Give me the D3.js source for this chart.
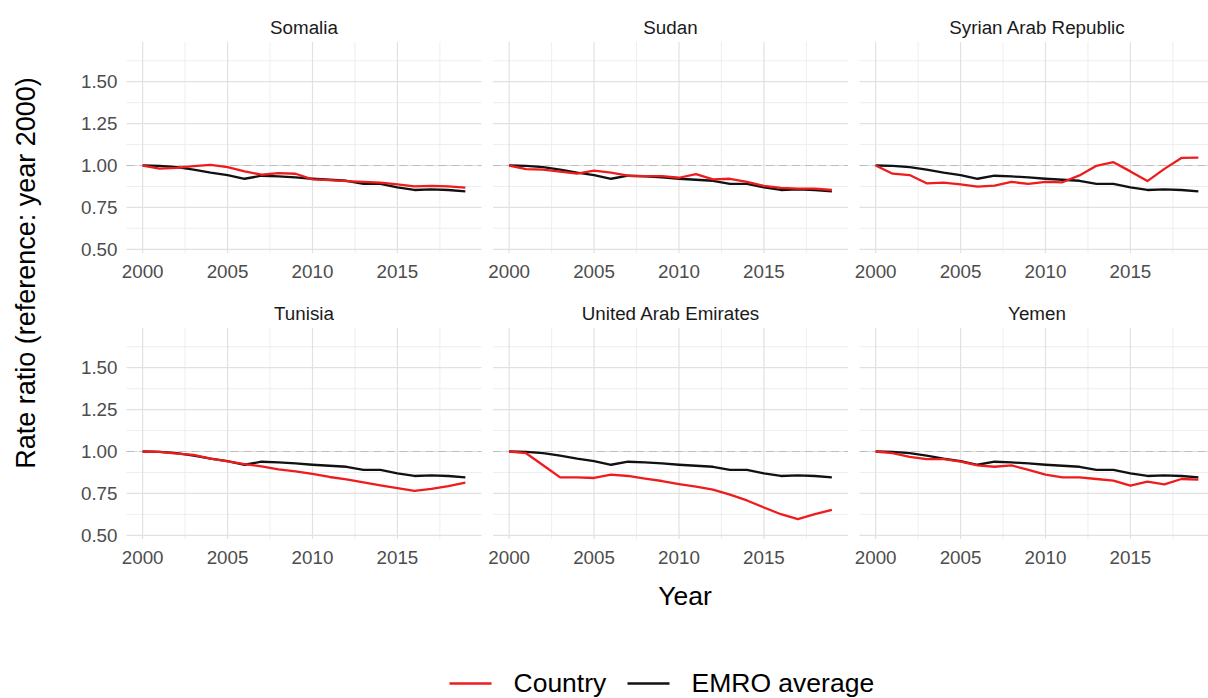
<!DOCTYPE html>
<html>
<head>
<meta charset="utf-8">
<script src="https://cdn.jsdelivr.net/npm/d3@7"></script>
<style>
  html, body { margin: 0; padding: 0; background: #ffffff; }
  svg { display: block; font-family: "Liberation Sans", Arial, Helvetica, sans-serif; }
</style>
</head>
<body>
<svg id="chart" width="1208" height="698"></svg>
<script>
// Years on the x axis
const years = d3.range(2000, 2020);

// Facet order (row by row)
const countries = ["Somalia", "Sudan", "Syrian Arab Republic",
                   "Tunisia", "United Arab Emirates", "Yemen"];

// Regional (EMRO) average rate ratio, same in every facet
const emroAverage = [1.000, 0.998, 0.990, 0.975, 0.957, 0.943, 0.921, 0.939, 0.935, 0.929,
                     0.921, 0.915, 0.909, 0.891, 0.891, 0.870, 0.854, 0.858, 0.854, 0.846];

// Country rate ratios (reference: year 2000)
const somalia = [1.000, 0.982, 0.986, 0.996, 1.004, 0.990, 0.965, 0.945, 0.955, 0.951,
                 0.917, 0.913, 0.907, 0.902, 0.898, 0.888, 0.876, 0.878, 0.876, 0.868];
const sudan   = [1.000, 0.978, 0.976, 0.963, 0.951, 0.969, 0.957, 0.939, 0.937, 0.937,
                 0.927, 0.949, 0.917, 0.921, 0.902, 0.878, 0.866, 0.862, 0.862, 0.854];
const syria   = [1.000, 0.951, 0.943, 0.894, 0.898, 0.888, 0.874, 0.880, 0.902, 0.890,
                 0.902, 0.900, 0.941, 0.998, 1.020, 0.965, 0.907, 0.980, 1.045, 1.047];
const tunisia = [1.000, 0.998, 0.988, 0.980, 0.958, 0.941, 0.925, 0.911, 0.893, 0.881,
                 0.866, 0.848, 0.834, 0.816, 0.798, 0.781, 0.765, 0.777, 0.794, 0.814];
const uae     = [1.000, 0.990, 0.918, 0.846, 0.846, 0.842, 0.862, 0.854, 0.838, 0.824,
                 0.806, 0.790, 0.772, 0.743, 0.708, 0.666, 0.626, 0.597, 0.626, 0.652];
const yemen   = [1.000, 0.990, 0.968, 0.955, 0.955, 0.939, 0.917, 0.909, 0.917, 0.891,
                 0.862, 0.846, 0.846, 0.836, 0.826, 0.796, 0.820, 0.804, 0.836, 0.832];

const countrySeries = [somalia, sudan, syria, tunisia, uae, yemen];

// Axis ticks
const xTicks = [2000, 2005, 2010, 2015];
const xMinor = [2002.5, 2007.5, 2012.5, 2017.5];
const yTicks = [0.50, 0.75, 1.00, 1.25, 1.50];
const yMinor = [0.625, 0.875, 1.125, 1.375, 1.625];

// Legend entries
const legendLabels = ["Country", "EMRO average"];
const legendColors = ["#ee1c1c", "#111111"];

// ---- layout ----
const svg = d3.select("#chart");
const panelW = 355, panelH = 211;
const colX = [126.5, 493, 859.5];
const rowY = [42, 328];

const x = d3.scaleLinear().domain([1999.05, 2019.95]).range([0, panelW]);
const y = d3.scaleLinear().domain([0.478, 1.737]).range([panelH, 0]);

const line = d3.line()
  .x((d, i) => x(years[i]))
  .y(d => y(d));

countries.forEach((name, k) => {
  const col = k % 3, row = Math.floor(k / 3);
  const g = svg.append("g").attr("transform", `translate(${colX[col]},${rowY[row]})`);

  // minor grid
  g.append("g").selectAll("line.vmin").data(xMinor).join("line")
    .attr("x1", d => x(d)).attr("x2", d => x(d))
    .attr("y1", 0).attr("y2", panelH)
    .attr("stroke", "#ececec").attr("stroke-width", 0.9);
  g.append("g").selectAll("line.hmin").data(yMinor).join("line")
    .attr("x1", 0).attr("x2", panelW)
    .attr("y1", d => y(d)).attr("y2", d => y(d))
    .attr("stroke", "#ececec").attr("stroke-width", 0.9);

  // major grid
  g.append("g").selectAll("line.vmaj").data(xTicks).join("line")
    .attr("x1", d => x(d)).attr("x2", d => x(d))
    .attr("y1", 0).attr("y2", panelH)
    .attr("stroke", "#e1e1e1").attr("stroke-width", 1.2);
  g.append("g").selectAll("line.hmaj").data(yTicks).join("line")
    .attr("x1", 0).attr("x2", panelW)
    .attr("y1", d => y(d)).attr("y2", d => y(d))
    .attr("stroke", "#e1e1e1").attr("stroke-width", 1.2);

  // reference line at 1
  g.append("line")
    .attr("x1", 0).attr("x2", panelW)
    .attr("y1", y(1)).attr("y2", y(1))
    .attr("stroke", "#bdbdbd").attr("stroke-width", 1.1)
    .attr("stroke-dasharray", "8,5");

  // strip title
  g.append("text")
    .attr("x", panelW / 2).attr("y", -8.5)
    .attr("text-anchor", "middle")
    .attr("font-size", 18.8).attr("fill", "#1a1a1a")
    .text(name);

  // x tick labels
  g.append("g").selectAll("text").data(xTicks).join("text")
    .attr("x", d => x(d)).attr("y", panelH + 24.5)
    .attr("text-anchor", "middle")
    .attr("font-size", 18.8).attr("fill", "#4d4d4d")
    .text(d => d);

  // y tick labels (first column only)
  if (col === 0) {
    g.append("g").selectAll("text").data(yTicks).join("text")
      .attr("x", -9).attr("y", d => y(d) + 6.6)
      .attr("text-anchor", "end")
      .attr("font-size", 18.8).attr("fill", "#4d4d4d")
      .text(d => d.toFixed(2));
  }

  // series: regional average, then country on top
  g.append("path").datum(emroAverage)
    .attr("d", line).attr("fill", "none")
    .attr("stroke", legendColors[1]).attr("stroke-width", 2.3)
    .attr("stroke-linejoin", "round");
  g.append("path").datum(countrySeries[k])
    .attr("d", line).attr("fill", "none")
    .attr("stroke", legendColors[0]).attr("stroke-width", 2.3)
    .attr("stroke-linejoin", "round");
});

// axis titles
svg.append("text")
  .attr("x", 685).attr("y", 605)
  .attr("text-anchor", "middle")
  .attr("font-size", 26.5).attr("fill", "#000")
  .text("Year");

svg.append("text")
  .attr("transform", "translate(35,273) rotate(-90)")
  .attr("text-anchor", "middle")
  .attr("font-size", 27).attr("fill", "#000")
  .text("Rate ratio (reference: year 2000)");

// legend
const legend = svg.append("g");
const legendKeys = [{ x0: 449.5, tx: 513.5 }, { x0: 627.5, tx: 691.5 }];
legendLabels.forEach((lab, i) => {
  legend.append("line")
    .attr("x1", legendKeys[i].x0).attr("x2", legendKeys[i].x0 + 42)
    .attr("y1", 683.5).attr("y2", 683.5)
    .attr("stroke", legendColors[i]).attr("stroke-width", 2.4);
  legend.append("text")
    .attr("x", legendKeys[i].tx).attr("y", 692)
    .attr("font-size", 26.5).attr("fill", "#000")
    .text(lab);
});
</script>
</body>
</html>
